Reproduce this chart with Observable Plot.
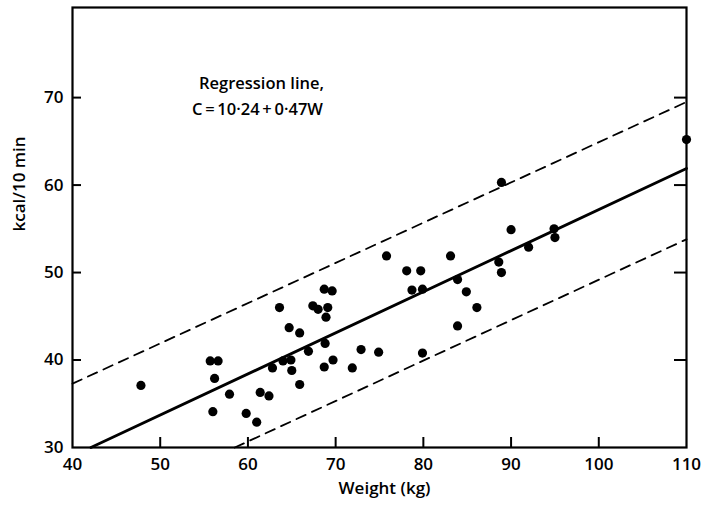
<!DOCTYPE html>
<html>
<head>
<meta charset="utf-8">
<script src="https://cdn.jsdelivr.net/npm/d3@7"></script>
<script src="https://cdn.jsdelivr.net/npm/@observablehq/plot@0.6"></script>
<style>
  html, body { margin: 0; padding: 0; background: #fff; }
  #chart svg { display: block; }
</style>
</head>
<body>
<div id="chart"></div>
<script>
// Body weight (kg) and energy cost (kcal/10 min)
const weight = [47.8, 55.7, 56.6, 56.2, 56.0, 57.9, 59.8, 61.0, 61.4, 62.4,
  62.8, 63.6, 64.0, 64.9, 64.7, 65.0, 65.9, 65.9, 66.9, 67.4,
  68.0, 68.7, 69.1, 68.9, 68.8, 68.7, 69.6, 69.7, 71.9, 72.9,
  74.9, 75.8, 78.1, 79.7, 78.7, 79.9, 79.9, 83.1, 83.9, 84.9,
  83.9, 86.1, 88.6, 88.9, 92.0, 95.0, 88.9, 90.0, 94.9, 110.0];
const kcal = [37.1, 39.9, 39.9, 37.9, 34.1, 36.1, 33.9, 32.9, 36.3, 35.9,
  39.1, 46.0, 39.9, 40.0, 43.7, 38.8, 43.1, 37.2, 41.0, 46.2,
  45.8, 48.1, 46.0, 44.9, 41.9, 39.2, 47.9, 40.0, 39.1, 41.2,
  40.9, 51.9, 50.2, 50.2, 48.0, 48.1, 40.8, 51.9, 49.2, 47.8,
  43.9, 46.0, 51.2, 50.0, 52.9, 54.0, 60.3, 54.9, 55.0, 65.2];

// Lines: regression C = 10.24 + 0.47W and the dashed limits
const regLineW = [42.1, 110];
const regLineC = [30.0, 61.9];
const upperW = [40, 110];
const upperC = [37.3, 69.5];
const lowerW = [58.5, 110];
const lowerC = [30.0, 53.8];

const xTicks = [40, 50, 60, 70, 80, 90, 100, 110];
const yTicks = [30, 40, 50, 60, 70];
const xInnerTicks = [50, 60, 70, 80, 90, 100];
const yInnerTicks = [40, 50, 60, 70];

const points = weight.map((w, i) => ({w, c: kcal[i]}));
const pts = (ws, cs) => ws.map((w, i) => ({w, c: cs[i]}));

const font = "'Open Sans', Lato, sans-serif";
const W = 701, H = 506, mL = 72, mR = 15, mT = 7, mB = 59;

const plot = Plot.plot({
  width: W,
  height: H,
  marginLeft: mL,
  marginRight: mR,
  marginTop: mT,
  marginBottom: mB,
  style: {fontFamily: font, fontSize: "17px", fontWeight: "600", color: "#000", background: "#fff"},
  x: {domain: [40, 110], label: null},
  y: {domain: [30, 80.3], label: null},
  marks: [
    Plot.axisX(xTicks, {anchor: "bottom", tickSize: 0, tickPadding: 10, tickFormat: d => String(d), fontSize: 17}),
    Plot.axisY(yTicks, {anchor: "left", tickSize: 0, tickPadding: 9, tickFormat: d => String(d), fontSize: 17}),
    // inward tick marks
    Plot.tickX(xInnerTicks, {x: d => d, insetTop: H - mT - mB - 10, stroke: "#000", strokeWidth: 2}),
    Plot.tickY(yInnerTicks, {y: d => d, insetRight: W - mL - mR - 9, stroke: "#000", strokeWidth: 2}),
    Plot.tickY(yInnerTicks, {y: d => d, insetLeft: W - mL - mR - 12, stroke: "#000", strokeWidth: 2}),
    Plot.frame({stroke: "#000", strokeWidth: 2.2}),
    Plot.line(pts(upperW, upperC), {x: "w", y: "c", stroke: "#000", strokeWidth: 1.8, strokeDasharray: "10,7"}),
    Plot.line(pts(lowerW, lowerC), {x: "w", y: "c", stroke: "#000", strokeWidth: 1.8, strokeDasharray: "10,7"}),
    Plot.line(pts(regLineW, regLineC), {x: "w", y: "c", stroke: "#000", strokeWidth: 2.8}),
    Plot.dot(points, {x: "w", y: "c", r: 4.6, fill: "#000", stroke: "none"}),
    Plot.text(["Weight (kg)"], {frameAnchor: "bottom", dx: 5, dy: 46, fontSize: 17, fontWeight: "600"}),
    Plot.text(["kcal/10 min"], {frameAnchor: "left", rotate: -90, dx: -53, dy: 4, fontSize: 17, fontWeight: "600"})
  ]
});

const svg = d3.select(plot);
const sx = plot.scale("x"), sy = plot.scale("y");
const ax = sx.apply(61.6);
svg.append("text")
  .attr("x", ax).attr("y", sy.apply(70.9))
  .attr("text-anchor", "middle")
  .attr("font-family", font).attr("font-size", 16.5).attr("font-weight", "600")
  .text("Regression line,");
svg.append("text")
  .attr("x", ax - 4).attr("y", sy.apply(68.0))
  .attr("text-anchor", "middle")
  .attr("font-family", font).attr("font-size", 16.5).attr("font-weight", "600")
  .text("C\u2009=\u200910·24\u2009+\u20090·47W");

document.getElementById("chart").appendChild(plot);
</script>
</body>
</html>
